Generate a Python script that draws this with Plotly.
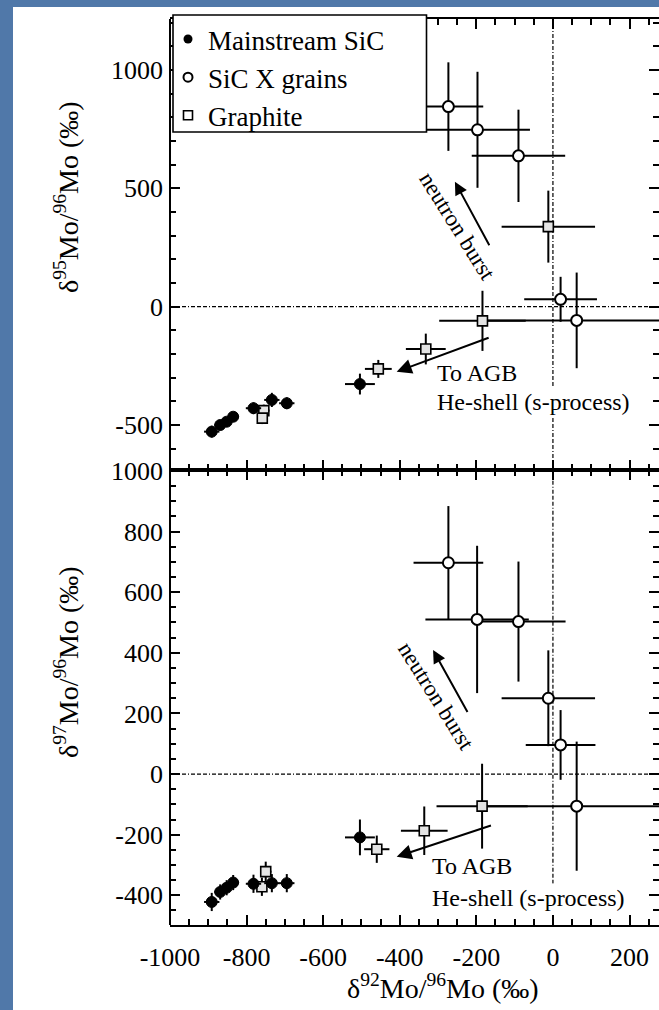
import plotly.graph_objects as go

# ---- data: delta values in permil, symmetric 1-sigma errors ----
# Mainstream SiC grains (both panels share the d92 values)
ms_d92 = [-891, -869, -852, -835, -782, -734, -695, -504]
ms_d92_err = [20, 15, 15, 15, 20, 20, 20, 39]
ms_d95 = [-528, -500, -486, -465, -429, -394, -408, -327]
ms_d95_err = [25, 20, 20, 20, 25, 30, 25, 44]
ms_d97 = [-422, -389, -375, -358, -362, -360, -360, -209]
ms_d97_err = [30, 25, 25, 25, 30, 30, 30, 59]

# SiC X grains, upper panel (d95)
sx_top_d92 = [-273, -197, -90, 20, 62]
sx_top_d92_err = [91, 137, 122, 95, 250]
sx_top_d95 = [845, 747, 637, 31, -58]
sx_top_d95_err = [187, 245, 195, 95, 202]

# SiC X grains, lower panel (d97)
sx_bot_d92 = [-273, -198, -90, -12, 20, 62]
sx_bot_d92_err = [91, 135, 123, 122, 91, 250]
sx_bot_d97 = [697, 510, 503, 250, 96, -106]
sx_bot_d97_err = [187, 243, 198, 158, 115, 213]

# Graphite grains, upper panel (d95)
gr_top_d92 = [-12, -184, -332, -456, -755, -759]
gr_top_d92_err = [122, 113, 52, 35, 15, 12]
gr_top_d95 = [338, -60, -179, -263, -439, -471]
gr_top_d95_err = [152, 127, 65, 38, 25, 25]

# Graphite grains, lower panel (d97)
gr_bot_d92 = [-185, -336, -460, -750, -760]
gr_bot_d92_err = [119, 61, 33, 15, 12]
gr_bot_d97 = [-106, -187, -248, -322, -372]
gr_bot_d97_err = [140, 80, 45, 33, 30]

# tick labels (plain hyphen minus)
x_tick_vals = [-1000, -800, -600, -400, -200, 0, 200]
x_tick_text = ["-1000", "-800", "-600", "-400", "-200", "0", "200"]
y95_tick_vals = [-500, 0, 500, 1000]
y95_tick_text = ["-500", "0", "500", "1000"]
y97_tick_vals = [-400, -200, 0, 200, 400, 600, 800, 1000]
y97_tick_text = ["-400", "-200", "0", "200", "400", "600", "800", "1000"]

# ---- layout geometry (pixels) ----
W, H = 659, 1010
ML, MR, MT, MB = 170, 0, 19, 85
PW, PH = W - ML - MR, H - MT - MB
SPLIT = (925 - 470) / PH  # bottom panel share of plot height


def paper_x(px):
    return (px - ML) / PW


def paper_y(py):
    return (H - MB - py) / PH


SERIF = "Liberation Serif, Times New Roman, Times, serif"
BLACK = "black"


def err(arr):
    return dict(type="data", array=arr, symmetric=True, color=BLACK,
                thickness=2, width=0)


ms_marker = dict(symbol="circle", size=11, color=BLACK, line=dict(color=BLACK, width=1))
sx_marker = dict(symbol="circle", size=11, color="white", line=dict(color=BLACK, width=2))
gr_marker = dict(symbol="square", size=10, color="#e4e4e4", line=dict(color=BLACK, width=1.6))

fig = go.Figure()

# legend entries
fig.add_trace(go.Scatter(x=[None], y=[None], mode="markers", name="Mainstream SiC",
                         marker=dict(symbol="circle", size=9, color=BLACK)))
fig.add_trace(go.Scatter(x=[None], y=[None], mode="markers", name="SiC X grains",
                         marker=dict(symbol="circle", size=9, color="white",
                                     line=dict(color=BLACK, width=2))))
fig.add_trace(go.Scatter(x=[None], y=[None], mode="markers", name="Graphite",
                         marker=dict(symbol="square", size=9, color="white",
                                     line=dict(color=BLACK, width=1.6))))

# upper panel: d95Mo/96Mo
fig.add_trace(go.Scatter(x=sx_top_d92, y=sx_top_d95, mode="markers", showlegend=False,
                         error_x=err(sx_top_d92_err), error_y=err(sx_top_d95_err),
                         marker=sx_marker, xaxis="x", yaxis="y"))
fig.add_trace(go.Scatter(x=gr_top_d92, y=gr_top_d95, mode="markers", showlegend=False,
                         error_x=err(gr_top_d92_err), error_y=err(gr_top_d95_err),
                         marker=gr_marker, xaxis="x", yaxis="y"))
fig.add_trace(go.Scatter(x=ms_d92, y=ms_d95, mode="markers", showlegend=False,
                         error_x=err(ms_d92_err), error_y=err(ms_d95_err),
                         marker=ms_marker, xaxis="x", yaxis="y"))

# lower panel: d97Mo/96Mo
fig.add_trace(go.Scatter(x=sx_bot_d92, y=sx_bot_d97, mode="markers", showlegend=False,
                         error_x=err(sx_bot_d92_err), error_y=err(sx_bot_d97_err),
                         marker=sx_marker, xaxis="x2", yaxis="y2"))
fig.add_trace(go.Scatter(x=gr_bot_d92, y=gr_bot_d97, mode="markers", showlegend=False,
                         error_x=err(gr_bot_d92_err), error_y=err(gr_bot_d97_err),
                         marker=gr_marker, xaxis="x2", yaxis="y2"))
fig.add_trace(go.Scatter(x=ms_d92, y=ms_d97, mode="markers", showlegend=False,
                         error_x=err(ms_d92_err), error_y=err(ms_d97_err),
                         marker=ms_marker, xaxis="x2", yaxis="y2"))

tick_font = dict(family=SERIF, size=26, color=BLACK)
X_RANGE = [-1000, 277]

x_common = dict(range=X_RANGE, tickmode="array", tickvals=x_tick_vals, ticktext=x_tick_text,
                ticks="inside", ticklen=10, tickwidth=1.5, tickcolor=BLACK,
                showline=True, linewidth=2, linecolor=BLACK, mirror="ticks",
                showgrid=False, zeroline=False, tickfont=tick_font,
                minor=dict(tickmode="linear", tick0=0, dtick=50, ticks="inside",
                           ticklen=6, tickwidth=1.5, tickcolor=BLACK, showgrid=False))

# y axes: ticks on both sides, the left spine is drawn as a shape so the
# right-hand frame stays open at the page edge
y_common = dict(ticks="inside", ticklen=10, tickwidth=1.5, tickcolor=BLACK,
                showline=False, mirror="ticks",
                showgrid=False, zeroline=False, tickfont=tick_font,
                ticklabelstandoff=6)

dashdot = "4px,2px,4px,2px,4px,2px,1px,2px"
ref_line = dict(color=BLACK, width=1.2, dash=dashdot)

shapes = [
    # white page panel over the blue backdrop
    dict(type="rect", xref="paper", yref="paper", layer="below",
         x0=paper_x(13), x1=paper_x(W + 5), y0=paper_y(H + 5), y1=paper_y(7),
         fillcolor="white", line=dict(width=0)),
    # left spine
    dict(type="line", xref="paper", yref="paper", layer="above",
         x0=0, x1=0, y0=0, y1=1, line=dict(color=BLACK, width=2)),
    # reference lines at zero (upper panel)
    dict(type="line", xref="x domain", yref="y", x0=0, x1=1, y0=0, y1=0,
         layer="below", line=ref_line),
    dict(type="line", xref="x", yref="y domain", x0=0, x1=0, y0=0, y1=1,
         layer="below", line=ref_line),
    # reference lines at zero (lower panel)
    dict(type="line", xref="x2 domain", yref="y2", x0=0, x1=1, y0=0, y1=0,
         layer="below", line=ref_line),
    dict(type="line", xref="x2", yref="y2", x0=0, x1=0, y0=-362, y1=1003,
         layer="below", line=ref_line),
    # legend frame
    dict(type="rect", xref="paper", yref="paper", layer="above",
         x0=paper_x(173), x1=paper_x(426.5), y0=paper_y(132), y1=paper_y(15),
         fillcolor="white", line=dict(color=BLACK, width=1.6)),
]

ann_font = dict(family=SERIF, size=24, color=BLACK)
title_font = dict(family=SERIF, size=28, color=BLACK)
burst_font = dict(family=SERIF, size=23, color=BLACK)

annotations = [
    # process arrows, upper panel
    dict(xref="x", yref="y", axref="x", ayref="y", x=-256, y=528, ax=-164, ay=253,
         text="", showarrow=True, arrowhead=2, arrowsize=1.3, arrowwidth=2,
         arrowcolor=BLACK, standoff=0, startstandoff=0),
    dict(xref="x", yref="y", axref="x", ayref="y", x=-408, y=-275, ax=-164, ay=-129,
         text="", showarrow=True, arrowhead=2, arrowsize=1.5, arrowwidth=2,
         arrowcolor=BLACK, standoff=0, startstandoff=0),
    dict(xref="x", yref="y", x=-249, y=339, text="neutron burst", showarrow=False,
         textangle=58, xanchor="center", yanchor="middle", font=burst_font),
    dict(xref="x", yref="y", x=-308, y=-280, text="To AGB", showarrow=False,
         xanchor="left", yanchor="middle", font=ann_font),
    dict(xref="x", yref="y", x=-308, y=-401, text="He-shell (s-process)", showarrow=False,
         xanchor="left", yanchor="middle", font=ann_font, bgcolor="white", borderpad=1),
    # process arrows, lower panel
    dict(xref="x2", yref="y2", axref="x2", ayref="y2", x=-313, y=409, ax=-221, ay=200,
         text="", showarrow=True, arrowhead=2, arrowsize=1.3, arrowwidth=2,
         arrowcolor=BLACK, standoff=0, startstandoff=0),
    dict(xref="x2", yref="y2", axref="x2", ayref="y2", x=-408, y=-273, ax=-158, ay=-168,
         text="", showarrow=True, arrowhead=2, arrowsize=1.5, arrowwidth=2,
         arrowcolor=BLACK, standoff=0, startstandoff=0),
    dict(xref="x2", yref="y2", x=-304, y=257, text="neutron burst", showarrow=False,
         textangle=58, xanchor="center", yanchor="middle", font=burst_font),
    dict(xref="x2", yref="y2", x=-321, y=-303, text="To AGB", showarrow=False,
         xanchor="left", yanchor="middle", font=ann_font),
    dict(xref="x2", yref="y2", x=-321, y=-410, text="He-shell (s-process)", showarrow=False,
         xanchor="left", yanchor="middle", font=ann_font, bgcolor="white", borderpad=1),
    # axis titles
    dict(xref="paper", yref="paper", x=paper_x(66), y=paper_y(197),
         xanchor="center", yanchor="middle",
         text="\u03b4<sup>95</sup>Mo/<sup>96</sup>Mo (\u2030)", textangle=-90,
         showarrow=False, font=title_font),
    dict(xref="paper", yref="paper", x=paper_x(66), y=paper_y(662),
         xanchor="center", yanchor="middle",
         text="\u03b4<sup>97</sup>Mo/<sup>96</sup>Mo (\u2030)", textangle=-90,
         showarrow=False, font=title_font),
    dict(xref="paper", yref="paper", x=paper_x(443), y=paper_y(987),
         xanchor="center", yanchor="middle",
         text="\u03b4<sup>92</sup>Mo/<sup>96</sup>Mo (\u2030)",
         showarrow=False, font=title_font),
]

fig.update_layout(
    width=W, height=H, autosize=False,
    margin=dict(l=ML, r=MR, t=MT, b=MB, pad=0),
    paper_bgcolor="#5078a9", plot_bgcolor="white",
    font=dict(family=SERIF, color=BLACK),
    xaxis=dict(domain=[0, 1], anchor="y", showticklabels=False, **x_common),
    xaxis2=dict(domain=[0, 1], anchor="y2", matches="x", ticklabelstandoff=8, **x_common),
    yaxis=dict(domain=[SPLIT, 1], anchor="x", range=[-690, 1215],
               tickmode="array", tickvals=y95_tick_vals, ticktext=y95_tick_text,
               minor=dict(tickmode="linear", tick0=0, dtick=100, ticks="inside",
                          ticklen=6, tickwidth=1.5, tickcolor=BLACK, showgrid=False),
               **y_common),
    yaxis2=dict(domain=[0, SPLIT], anchor="x2", range=[-498, 1003],
                tickmode="array", tickvals=y97_tick_vals, ticktext=y97_tick_text,
                minor=dict(tickmode="linear", tick0=0, dtick=50, ticks="inside",
                           ticklen=6, tickwidth=1.5, tickcolor=BLACK, showgrid=False),
                **y_common),
    legend=dict(x=paper_x(168), y=paper_y(15), xanchor="left", yanchor="top",
                bgcolor="rgba(0,0,0,0)", borderwidth=0,
                font=dict(family=SERIF, size=27, color=BLACK),
                traceorder="normal", itemwidth=30),
    shapes=shapes,
    annotations=annotations,
    showlegend=True,
)

fig.write_html("out.html", config={"displayModeBar": False})
